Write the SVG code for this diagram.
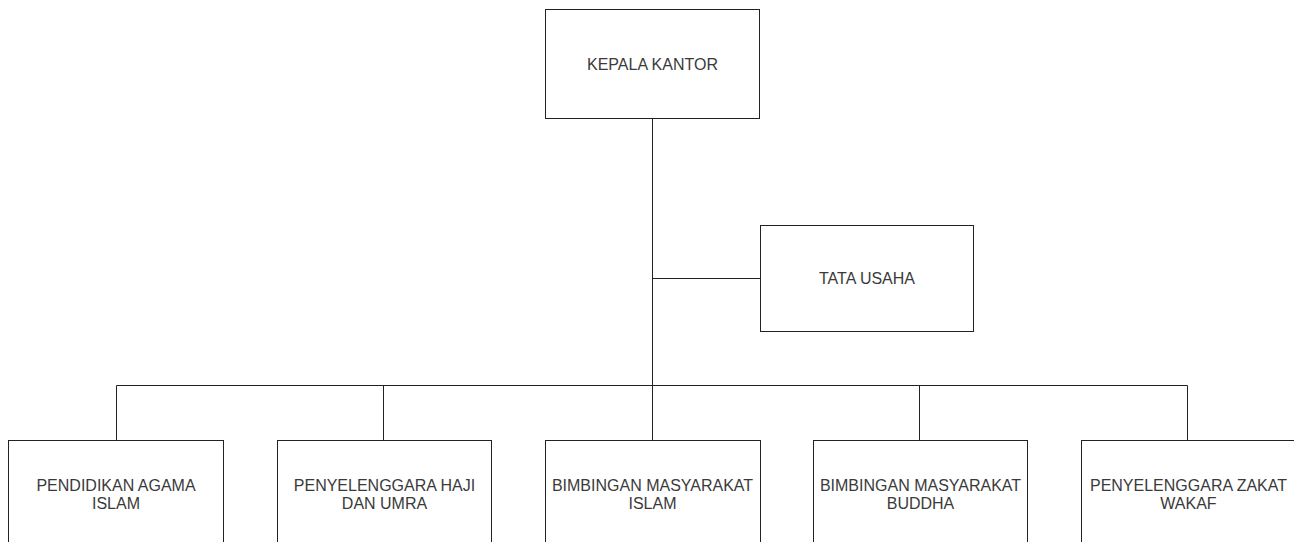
<svg xmlns="http://www.w3.org/2000/svg" width="1294" height="542" viewBox="0 0 1294 542">
<style>
.box{fill:#fff;stroke:#222;stroke-width:1}
.edge{fill:none;stroke:#222;stroke-width:1}
.lbl{font-family:"Liberation Sans",Arial,sans-serif;font-size:16px;fill:#3a3a3a;text-anchor:middle}
</style>
<rect width="1294" height="542" fill="#fff"/>
<g id="connectors">
<path class="edge" d="M652.5 118.5V385.5"/>
<path class="edge" d="M652.5 278.5H760.5"/>
<path class="edge" d="M116.5 440.5V385.5H1187.5V440.5"/>
<path class="edge" d="M383.5 385.5V440.5"/>
<path class="edge" d="M652.5 385.5V440.5"/>
<path class="edge" d="M919.5 385.5V440.5"/>
</g>
<g id="kepala">
<rect class="box" x="545.5" y="9.5" width="214" height="109"/>
<text class="lbl" x="652.5" y="70">KEPALA KANTOR</text>
</g>
<g id="tatausaha">
<rect class="box" x="760.5" y="225.5" width="213" height="106"/>
<text class="lbl" x="867" y="284">TATA USAHA</text>
</g>
<g id="pai">
<rect class="box" x="8.5" y="440.5" width="215" height="108"/>
<text class="lbl" x="116" y="491">PENDIDIKAN AGAMA</text>
<text class="lbl" x="116" y="509">ISLAM</text>
</g>
<g id="haji">
<rect class="box" x="277.5" y="440.5" width="214" height="108"/>
<text class="lbl" x="384.5" y="491">PENYELENGGARA HAJI</text>
<text class="lbl" x="384.5" y="509">DAN UMRA</text>
</g>
<g id="bimasislam">
<rect class="box" x="545.5" y="440.5" width="215" height="108"/>
<text class="lbl" x="652.5" y="491">BIMBINGAN MASYARAKAT</text>
<text class="lbl" x="652.5" y="509">ISLAM</text>
</g>
<g id="bimasbuddha">
<rect class="box" x="813.5" y="440.5" width="214" height="108"/>
<text class="lbl" x="920.5" y="491">BIMBINGAN MASYARAKAT</text>
<text class="lbl" x="920.5" y="509">BUDDHA</text>
</g>
<g id="zakat">
<rect class="box" x="1081.5" y="440.5" width="214" height="108"/>
<text class="lbl" x="1188.5" y="491">PENYELENGGARA ZAKAT</text>
<text class="lbl" x="1188.5" y="509">WAKAF</text>
</g>
</svg>
